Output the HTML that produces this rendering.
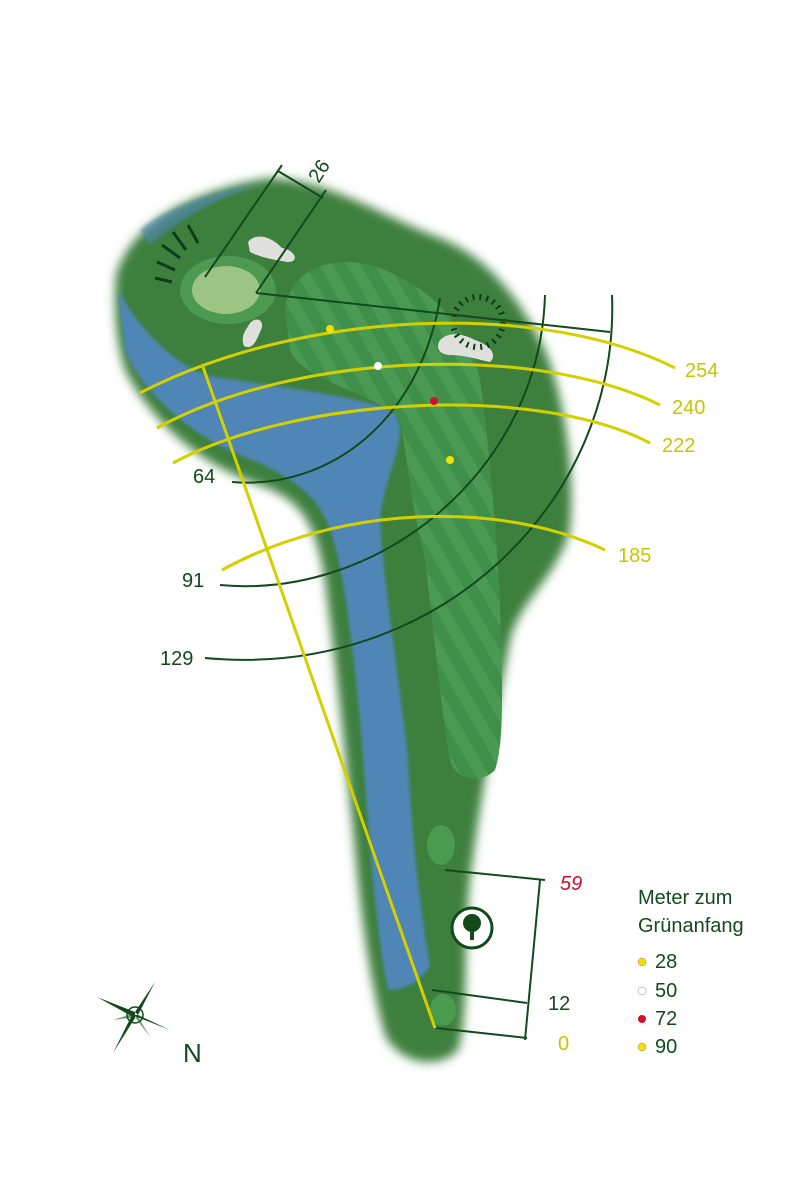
<!DOCTYPE html>
<html><head><meta charset="utf-8"><style>
html,body{margin:0;padding:0;background:#fff}
svg{display:block}
text{font-family:"Liberation Sans",sans-serif}
</style></head><body>
<svg width="800" height="1200" viewBox="0 0 800 1200" xmlns="http://www.w3.org/2000/svg">
<defs>
<filter id="b" x="-20%" y="-20%" width="140%" height="140%"><feGaussianBlur stdDeviation="5"/></filter>
<filter id="b2"><feGaussianBlur stdDeviation="1.5"/></filter>
<pattern id="st" width="24" height="24" patternUnits="userSpaceOnUse" patternTransform="rotate(-30)">
<rect width="24" height="24" fill="#3f8f4a"/><rect width="12" height="24" fill="#4a9a54"/></pattern>
</defs>
<!-- rough body -->
<path filter="url(#b)" fill="#3e7f3c" d="M116,275 C130,225 190,190 270,178 C330,180 380,215 440,238 C490,258 520,300 545,350 C565,400 575,470 570,530 C555,580 520,600 510,640 C495,720 480,800 470,880 C462,950 470,1010 458,1050 C440,1070 400,1065 385,1035 C375,1000 365,950 358,880 C350,800 340,700 325,580 C315,520 300,500 260,485 C200,465 150,420 125,370 C115,340 114,300 116,275 Z"/>
<!-- water -->
<path filter="url(#b2)" fill="#4f86b6" d="M118,290 C140,330 170,360 205,375 C260,385 360,395 395,412 C410,440 385,470 380,520 C385,600 400,680 408,760 C412,840 420,910 430,965 C420,985 400,990 388,990 C375,930 368,820 360,720 C352,640 345,580 332,535 C320,495 290,475 240,455 C190,435 140,390 125,350 Z"/>
<path filter="url(#b2)" fill="#4f86b6" opacity="0.6" d="M140,230 C170,205 220,190 262,182 C220,198 185,215 150,245 Z"/>
<!-- fairway -->
<path fill="url(#st)" d="M285,310 C290,270 330,255 370,265 C420,280 470,320 480,380 C490,450 495,520 500,600 C502,680 505,740 495,770 C480,785 455,780 450,760 C440,700 435,640 425,560 C410,500 408,460 400,420 C380,395 300,380 290,350 Z"/>
<!-- green -->
<ellipse cx="228" cy="290" rx="48" ry="34" fill="#4c9a4f"/>
<ellipse cx="226" cy="290" rx="34" ry="24" fill="#9cc585"/>
<!-- tee boxes -->
<ellipse cx="441" cy="845" rx="14" ry="20" fill="#4a9a50"/>
<ellipse cx="443" cy="1010" rx="13" ry="16" fill="#4a9a50"/>
<!-- bunkers -->
<path fill="#dfe0dc" d="M248,242 C258,230 275,240 282,248 C295,250 300,262 288,262 C275,260 262,258 250,252 Z"/>
<path fill="#dfe0dc" d="M250,323 C258,315 266,322 260,332 C256,342 252,350 244,346 C240,336 246,330 250,323 Z"/>
<path fill="#dfe0dc" d="M440,340 C450,330 465,335 475,340 C490,345 498,355 490,362 C480,360 465,355 450,355 C440,355 435,348 440,340 Z"/>
<!-- hazard ticks -->
<g stroke="#0f3d1a" stroke-width="3">
<line x1="155" y1="278" x2="172" y2="282"/><line x1="157" y1="262" x2="175" y2="270"/><line x1="162" y1="245" x2="180" y2="258"/><line x1="173" y1="232" x2="186" y2="250"/><line x1="188" y1="225" x2="198" y2="243"/>
</g>
<circle cx="478" cy="322" r="25" fill="none" stroke="#0f3d1a" stroke-width="6" stroke-dasharray="2 5"/>
<!-- dark distance lines -->
<g stroke="#124a1c" stroke-width="2" fill="none">
<line x1="205" y1="277" x2="282" y2="165"/>
<line x1="256" y1="293" x2="326" y2="190"/>
<line x1="278" y1="171" x2="323" y2="198"/>
<line x1="256" y1="293" x2="610" y2="332"/>
<path d="M232,482 C330,490 420,420 440,298"/>
<path d="M220,585 C380,600 540,470 545,295"/>
<path d="M205,658 C440,680 620,500 612,295"/>
<line x1="445" y1="870" x2="545" y2="880"/>
<line x1="432" y1="990" x2="527" y2="1003"/>
<line x1="436" y1="1028" x2="527" y2="1038"/>
<line x1="540" y1="880" x2="525" y2="1040"/>
</g>
<!-- yellow lines -->
<g stroke="#d4d000" stroke-width="3" fill="none">
<line x1="203" y1="367" x2="435" y2="1028"/>
<path d="M140,393 C300,310 540,300 675,368"/>
<path d="M157,428 C300,350 540,345 660,405"/>
<path d="M173,463 C300,395 540,385 650,443"/>
<path d="M222,570 C340,505 500,500 605,550"/>
</g>
<circle cx="330" cy="329" r="4" fill="#f2e000"/>
<circle cx="378" cy="366" r="4" fill="#fff"/>
<circle cx="434" cy="401" r="4" fill="#d0102c"/>
<circle cx="450" cy="460" r="4" fill="#f2e000"/>
<!-- tree icon -->
<circle cx="472" cy="928" r="20" fill="#fff" stroke="#124a1c" stroke-width="3"/>
<circle cx="472" cy="923" r="9" fill="#124a1c"/>
<rect x="470" y="926" width="4" height="14" fill="#124a1c"/>
<!-- labels -->
<g font-size="20" fill="#124a1c">
<text x="300" y="180" transform="rotate(-58 313 165)">26</text>
<text x="193" y="483">64</text>
<text x="182" y="587">91</text>
<text x="160" y="665">129</text>
<text x="548" y="1010">12</text>
</g>
<g font-size="20" fill="#c8c400">
<text x="685" y="377">254</text>
<text x="672" y="414">240</text>
<text x="662" y="452">222</text>
<text x="618" y="562">185</text>
<text x="558" y="1050">0</text>
</g>
<text x="560" y="890" font-size="20" fill="#c8102e" font-style="italic">59</text>
<g font-size="20" fill="#124a1c">
<text x="638" y="904">Meter zum</text>
<text x="638" y="932">Grünanfang</text>
<text x="655" y="968">28</text><text x="655" y="997">50</text><text x="655" y="1025">72</text><text x="655" y="1053">90</text>
</g>
<circle cx="642" cy="962" r="4" fill="#f2e000" stroke="#888" stroke-width="0.5"/>
<circle cx="642" cy="991" r="4" fill="#fff" stroke="#888" stroke-width="0.5"/>
<circle cx="642" cy="1019" r="4" fill="#d0102c"/>
<circle cx="642" cy="1047" r="4" fill="#f2e000" stroke="#888" stroke-width="0.5"/>
<!-- compass -->
<g fill="#124a1c" transform="translate(135,1015)">
<polygon points="0,-3 -38,-18 0,3"/><polygon points="0,-3 20,-33 3,0"/><polygon points="3,0 35,15 -3,0"/><polygon points="-3,0 -22,38 0,3"/>
<polygon points="0,-2 -22,5 0,2" opacity="0.6"/><polygon points="0,2 15,22 2,0" opacity="0.6"/>
<circle r="8" fill="none" stroke="#124a1c" stroke-width="1.5"/>
</g>
<text x="183" y="1062" font-size="26" fill="#124a1c">N</text>
</svg>
</body></html>
